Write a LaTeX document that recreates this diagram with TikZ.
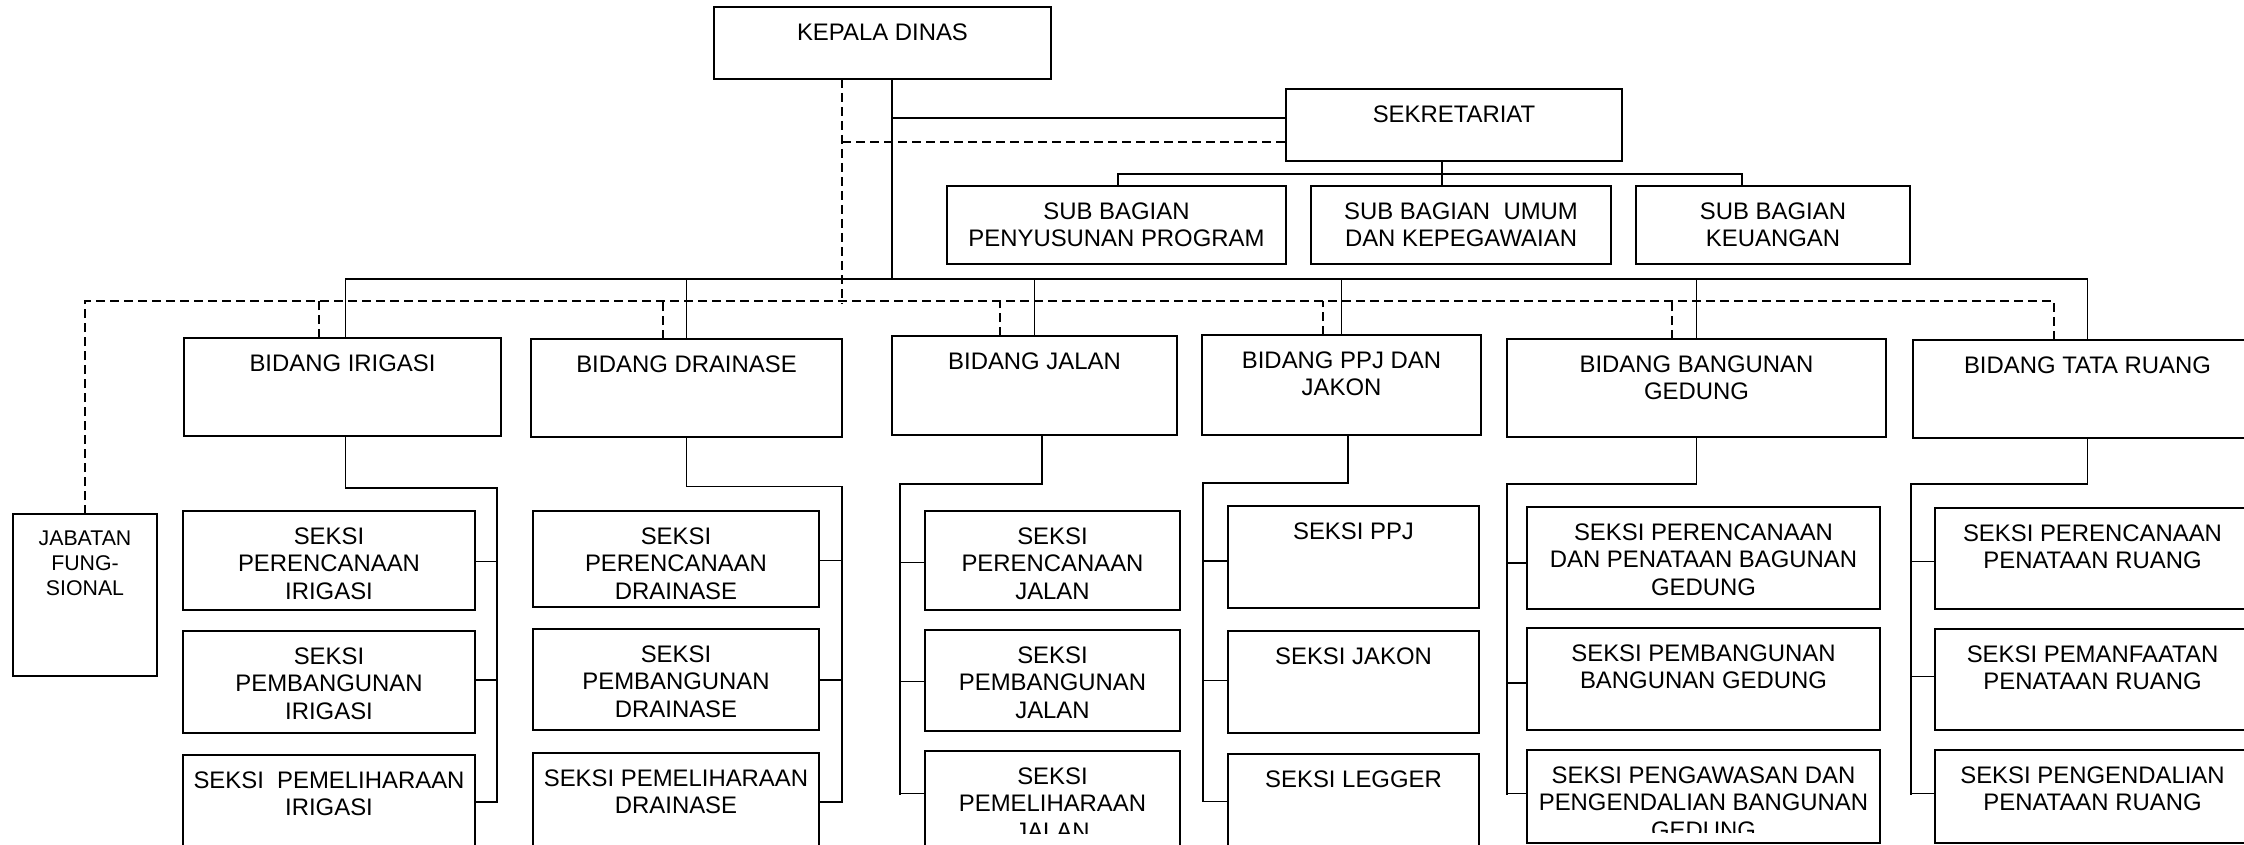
\documentclass[tikz,border=0pt]{standalone}
\usepackage{fontspec}
\setmainfont{Liberation Sans}
\usetikzlibrary{calc}
\newcommand\obox[7][]{%
  \pgfmathsetmacro\obW{#5-#3}\pgfmathsetmacro\obH{#6-#4}%
  \node[box, minimum width=\obW pt, minimum height=\obH pt] (#2) at ({(#3+#5)/2},{(#4+#6)/2}) {};
  \node[txt,#1] at ([yshift=-16.5pt]#2.north) {#7};
}
\begin{document}
\begin{tikzpicture}[x=1pt,y=-1pt,
  box/.style={draw, line width=2.1pt, inner sep=0pt, outer sep=0pt},
  txt/.style={anchor=north, align=center, inner sep=0pt, font=\fontsize{23.9}{27.4}\selectfont},
  small/.style={font=\fontsize{21.3}{25}\selectfont},
  ln/.style={line width=1.9pt},
  dl/.style={line width=1.9pt, dash pattern=on 9pt off 5pt}]
\useasboundingbox (0,0) rectangle (2244,845);
\clip (0,0) rectangle (2244,845);

% top level
\obox{kd}{714}{7}{1051}{79}{KEPALA DINAS}
\obox{sek}{1286}{89}{1622}{161}{SEKRETARIAT}
\obox{sbp}{947}{186}{1286}{264}{SUB BAGIAN\\PENYUSUNAN PROGRAM}
\obox{sbu}{1311}{186}{1611}{264}{SUB BAGIAN\ \ UMUM\\DAN KEPEGAWAIAN}
\obox{sbk}{1636}{186}{1910}{264}{SUB BAGIAN\\KEUANGAN}

% bidang
\obox[small]{jf}{13}{514}{157}{676}{JABATAN\\FUNG-\\SIONAL}
\obox{irg}{184}{338}{501}{436}{BIDANG IRIGASI}
\obox{drn}{531}{339}{842}{437}{BIDANG DRAINASE}
\obox{jln}{892}{336}{1177}{435}{BIDANG JALAN}
\obox{ppj}{1202}{335}{1481}{435}{BIDANG PPJ DAN\\JAKON}
\obox{bg}{1507}{339}{1886}{437}{BIDANG BANGUNAN\\GEDUNG}
\obox{tr}{1913}{340}{2262}{438}{BIDANG TATA RUANG}

% seksi irigasi
\obox{si1}{183}{511}{475}{610}{SEKSI\\PERENCANAAN\\IRIGASI}
\obox{si2}{183}{631}{475}{733}{SEKSI\\PEMBANGUNAN\\IRIGASI}
\obox{si3}{183}{755}{475}{860}{SEKSI\ \ PEMELIHARAAN\\IRIGASI}
% seksi drainase
\obox{sd1}{533}{511}{819}{607}{SEKSI\\PERENCANAAN\\DRAINASE}
\obox{sd2}{533}{629}{819}{730}{SEKSI\\PEMBANGUNAN\\DRAINASE}
\obox{sd3}{533}{753}{819}{860}{SEKSI PEMELIHARAAN\\DRAINASE}
% seksi jalan
\obox{sj1}{925}{511}{1180}{610}{SEKSI\\PERENCANAAN\\JALAN}
\obox{sj2}{925}{630}{1180}{731}{SEKSI\\PEMBANGUNAN\\JALAN}
\obox{sj3}{925}{751}{1180}{860}{}
\begin{scope}
  \clip (0,0) rectangle (2244,833);
  \node[txt] at ([yshift=-16.5pt]sj3.north) {SEKSI\\PEMELIHARAAN\\JALAN};
\end{scope}
% seksi ppj
\obox{sp1}{1228}{506}{1479}{608}{SEKSI PPJ}
\obox{sp2}{1228}{631}{1479}{733}{SEKSI JAKON}
\obox{sp3}{1228}{754}{1479}{860}{SEKSI LEGGER}
% seksi bangunan gedung
\obox{sb1}{1527}{507}{1880}{609}{SEKSI PERENCANAAN\\DAN PENATAAN BAGUNAN\\GEDUNG}
\obox{sb2}{1527}{628}{1880}{730}{SEKSI PEMBANGUNAN\\BANGUNAN GEDUNG}
\obox{sb3}{1527}{750}{1880}{843}{}
\begin{scope}
  \clip (0,0) rectangle (2244,832);
  \node[txt] at ([yshift=-16.5pt]sb3.north) {SEKSI PENGAWASAN DAN\\PENGENDALIAN BANGUNAN\\GEDUNG};
\end{scope}
% seksi tata ruang
\obox{st1}{1935}{508}{2250}{609}{SEKSI PERENCANAAN\\PENATAAN RUANG}
\obox{st2}{1935}{629}{2250}{730}{SEKSI PEMANFAATAN\\PENATAAN RUANG}
\obox{st3}{1935}{750}{2250}{843}{SEKSI PENGENDALIAN\\PENATAAN RUANG}

% ---- connectors: top
\coordinate (b0) at (892,279);
\coordinate (d0) at (842,301);
\draw[ln] ($(kd.south)+(9.5,0)$) -- (b0);
\draw[ln] ($(kd.south)+(9.5,38.7)$) -- ($(sek.west)+(0,-7.3)$);
\draw[dl] ($(kd.south)+(-40.5,0)$) -- ($(kd.south)+(-40.5,225)$);
\draw[dl] ($(kd.south)+(-40.5,62.7)$) -- ($(sek.west)+(0,16.7)$);

% sekretariat to sub bagian
\coordinate (sa) at (1118,174);
\coordinate (sz) at (1742,174);
\draw[ln] ($(sek.south)+(-12,0)$) -- ($(sbu.north)+(-19,0)$);
\draw[ln] (sbp.north -| sa) -- (sa) -- (sz) -- (sbk.north -| sz);

% main solid bus
\draw[ln] ($(irg.north)+(3,0)$) coordinate (ir0) -- (ir0 |- b0) -- (tr.north |- b0) -- (tr.north);
\foreach \n in {drn,jln,ppj,bg}{\draw[ln] (\n.north) -- (\n.north |- b0);}

% dashed bus
\coordinate (dR) at (2054,301);
\draw[dl] (jf.north) -- (jf.north |- d0) -- (dR) -- (dR |- tr.north);
\foreach \n/\s in {irg/-23.5,drn/-23.5,jln/-34.5,ppj/-18.5,bg/-24.5}{
  \draw[dl] ($(\n.north)+(\s,0)$) coordinate (t) -- (t |- d0);}

% irigasi
\coordinate (ia) at (497,488); \coordinate (ib) at (497,802);
\draw[ln] ($(irg.south)+(3,0)$) |- (ia) -- (ib) -- (ib -| si3.east);
\draw[ln] ($(si1.east)+(0,1)$) coordinate (t) -- (t -| ia);
\draw[ln] ($(si2.east)+(0,-2)$) coordinate (t) -- (t -| ia);
% drainase
\coordinate (da) at (842,486.5); \coordinate (db) at (842,802);
\draw[ln] (drn.south) |- (da) -- (db) -- (db -| sd3.east);
\draw[ln] ($(sd1.east)+(0,1.5)$) coordinate (t) -- (t -| da);
\draw[ln] ($(sd2.east)+(0,0.5)$) coordinate (t) -- (t -| da);
% jalan
\coordinate (ja) at (900,484); \coordinate (jb) at (900,795);
\draw[ln] ($(jln.south)+(7.5,0)$) |- (ja) -- (jb);
\draw[ln] ($(sj1.west)+(0,2)$) coordinate (t) -- (t -| ja);
\draw[ln] ($(sj2.west)+(0,1)$) coordinate (t) -- (t -| ja);
\draw[ln] (sj3.west |- 0,793.5) coordinate (t) -- (t -| ja);
% ppj
\coordinate (pa) at (1203,483); \coordinate (pb) at (1203,801.5);
\draw[ln] ($(ppj.south)+(6.5,0)$) |- (pa) -- (pb) -- (pb -| sp3.west);
\draw[ln] ($(sp1.west)+(0,4)$) coordinate (t) -- (t -| pa);
\draw[ln] ($(sp2.west)+(0,-1.5)$) coordinate (t) -- (t -| pa);
% bangunan gedung
\coordinate (ga) at (1507,484); \coordinate (gb) at (1507,795);
\draw[ln] (bg.south) |- (ga) -- (gb);
\draw[ln] ($(sb1.west)+(0,5)$) coordinate (t) -- (t -| ga);
\draw[ln] ($(sb2.west)+(0,4)$) coordinate (t) -- (t -| ga);
\draw[ln] (sb3.west |- 0,793.5) coordinate (t) -- (t -| ga);
% tata ruang
\coordinate (ta) at (1911,484); \coordinate (tb) at (1911,795);
\draw[ln] (tr.south) |- (ta) -- (tb);
\draw[ln] ($(st1.west)+(0,3)$) coordinate (t) -- (t -| ta);
\draw[ln] ($(st2.west)+(0,-3)$) coordinate (t) -- (t -| ta);
\draw[ln] (st3.west |- 0,793.5) coordinate (t) -- (t -| ta);
\end{tikzpicture}
\end{document}
